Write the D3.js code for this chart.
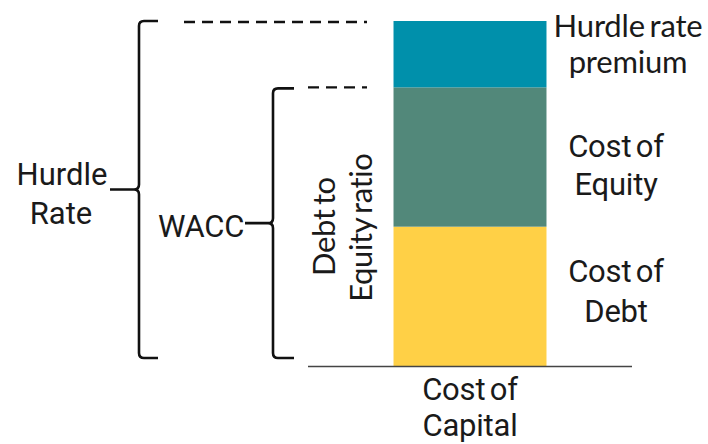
<!DOCTYPE html>
<html>
<head>
<meta charset="utf-8">
<script src="https://cdn.jsdelivr.net/npm/d3@7"></script>
<style>
  html, body { margin: 0; padding: 0; background: #fff; }
  svg { display: block; }
  text { fill: #1a1a1a; }
</style>
</head>
<body>
<svg id="chart" width="708" height="444"></svg>
<script>
// Stacked components of the cost of capital (relative units)
const categories = ["Cost of Capital"];
const segments = ["Cost of Debt", "Cost of Equity", "Hurdle rate premium"];
const segmentValues = [4.2, 4.2, 2.0];
const segmentColors = ["#FFD046", "#52887A", "#0090AB"];
const segmentLabels = [["Cost of", "Debt"], ["Cost of", "Equity"], ["Hurdle rate", "premium"]];
const categoryLabel = ["Cost of", "Capital"];

const svg = d3.select("#chart");

const total = d3.sum(segmentValues);
const baseY = 366, topY = 21;

const x = d3.scaleBand().domain(categories).range([308, 632]).paddingOuter(0.559).paddingInner(0);
const y = d3.scaleLinear().domain([0, total]).range([baseY, topY]);

// Build stack offsets
let acc = 0;
const stacked = segmentValues.map((v, i) => {
  const d = { key: segments[i], y0: acc, y1: acc + v, color: segmentColors[i], label: segmentLabels[i] };
  acc += v;
  return d;
});

const bx = x(categories[0]), bw = x.bandwidth();

svg.append("g").selectAll("rect").data(stacked).join("rect")
  .attr("x", bx).attr("width", bw)
  .attr("y", d => y(d.y1)).attr("height", d => y(d.y0) - y(d.y1))
  .attr("fill", d => d.color);

// Baseline
svg.append("line")
  .attr("x1", x.range()[0]).attr("x2", x.range()[1])
  .attr("y1", baseY + 0.5).attr("y2", baseY + 0.5)
  .attr("stroke", "#444").attr("stroke-width", 1.6);

// Segment labels to the right of the bar
const fontMain = "Roboto, sans-serif";
const labelStyle = [
  { font: fontMain, size: 31, ls: -0.2, ws: -3, cx: 616, first: d => (y(d.y0) + y(d.y1)) / 2 - 14, lh: 40 },
  { font: fontMain, size: 31, ls: -0.2, ws: -3, cx: 616, first: d => (y(d.y0) + y(d.y1)) / 2, lh: 38 },
  { font: "Lato, sans-serif", size: 31, ls: -0.2, ws: -3, cx: 628, first: d => y(d.y1) + 16, lh: 36 }
];
const lab = svg.append("g");
stacked.forEach((d, i) => {
  const st = labelStyle[i];
  const t = lab.append("text")
    .attr("text-anchor", "middle")
    .style("font-family", st.font)
    .style("font-size", st.size + "px")
    .style("letter-spacing", st.ls + "px")
    .style("word-spacing", st.ws + "px");
  const b = st.first(d);
  d.label.forEach((s, k) => {
    t.append("tspan").attr("x", st.cx).attr("y", b + k * st.lh).text(s);
  });
});

// Category label below the bar
const cl = svg.append("text").attr("text-anchor", "middle")
  .style("font-family", fontMain).style("font-size", "31px")
  .style("letter-spacing", "-0.2px").style("word-spacing", "-3px");
categoryLabel.forEach((s, k) => {
  cl.append("tspan").attr("x", bx + bw / 2).attr("y", 400 + k * 36).text(s);
});

// Rotated "Debt to Equity ratio" label beside the bar
const rot = svg.append("text")
  .attr("transform", `translate(0,${(y(0) + y(segmentValues[0] + segmentValues[1])) / 2}) rotate(-90)`)
  .attr("text-anchor", "middle")
  .style("font-family", "Lato, sans-serif").style("font-size", "31px")
  .style("letter-spacing", "-0.4px").style("word-spacing", "-3px");
rot.append("tspan").attr("x", 0).attr("y", 335).text("Debt to");
rot.append("tspan").attr("x", -1).attr("y", 372).text("Equity ratio");

// Curly brace: vertical spine with hooked ends and a tip pointing left
function brace(xs, top, bottom, hookX, tipX) {
  const r = 5, mid = (top + bottom) / 2;
  return `M${hookX},${top} H${xs + r} Q${xs},${top} ${xs},${top + r} V${mid - r} Q${xs},${mid} ${xs - r},${mid} H${tipX}` +
         ` M${xs - r},${mid} Q${xs},${mid} ${xs},${mid + r} V${bottom - r} Q${xs},${bottom} ${xs + r},${bottom} H${hookX}`;
}

const braceBottom = 358;
const hurdleTop = y(total), waccTop = y(segmentValues[0] + segmentValues[1]);

svg.append("path").attr("d", brace(139, hurdleTop, braceBottom, 158, 110))
  .attr("fill", "none").attr("stroke", "#111").attr("stroke-width", 2.6);
svg.append("path").attr("d", brace(273, waccTop + 1, braceBottom, 294, 245))
  .attr("fill", "none").attr("stroke", "#111").attr("stroke-width", 2.6);

// Dashed guides from brace tops to the bar
svg.append("line").attr("x1", 184).attr("x2", 367).attr("y1", hurdleTop + 1).attr("y2", hurdleTop + 1)
  .attr("stroke", "#111").attr("stroke-width", 2.4).attr("stroke-dasharray", "11,7");
svg.append("line").attr("x1", 308).attr("x2", 367).attr("y1", waccTop).attr("y2", waccTop)
  .attr("stroke", "#111").attr("stroke-width", 2.4).attr("stroke-dasharray", "11,7");

// Brace labels
const hr = svg.append("text").attr("text-anchor", "middle")
  .style("font-family", fontMain).style("font-size", "31px");
hr.append("tspan").attr("x", 62).attr("y", 185).text("Hurdle");
hr.append("tspan").attr("x", 61).attr("y", 224).text("Rate");

svg.append("text").attr("x", 201).attr("y", 237).attr("text-anchor", "middle")
  .style("font-family", fontMain).style("font-size", "31px").style("letter-spacing", "-0.3px")
  .text("WACC");
</script>
</body>
</html>
